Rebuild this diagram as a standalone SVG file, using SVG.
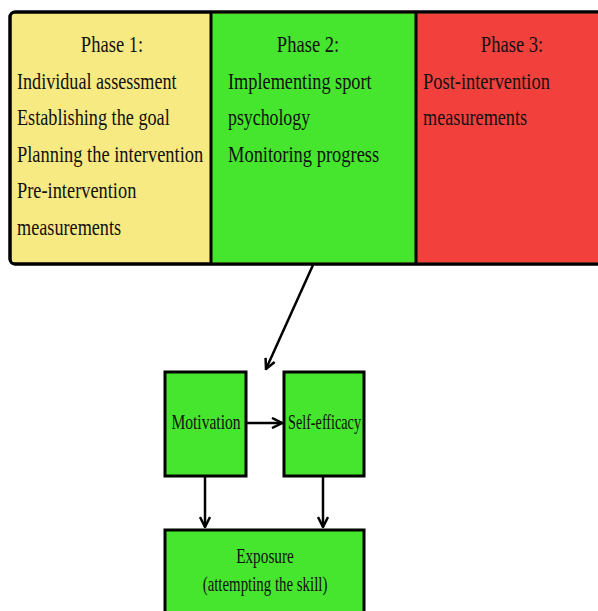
<svg xmlns="http://www.w3.org/2000/svg" width="598" height="611" viewBox="0 0 598 611">
<defs>
<marker id="ah" viewBox="0 0 10 10" refX="9" refY="5" markerWidth="5" markerHeight="5" orient="auto" markerUnits="strokeWidth">
<path d="M1,1 L9,5 L1,9" fill="none" stroke="#000" stroke-width="2"/>
</marker>
<style>
text{font-family:"Liberation Serif","Times New Roman",serif;fill:#111;}
.t{font-size:24px;}
.s{font-size:21px;}
.box{stroke:#000;stroke-width:3;}
.c{stroke:#000;stroke-width:2.5;fill:none;}
</style>
</defs>
<rect width="598" height="611" fill="#fff"/>
<g id="phases">
<rect x="10" y="12" width="600" height="252" rx="5" fill="#F8EA82" class="box"/>
<rect x="211" y="13.5" width="205" height="249" fill="#46E62E"/>
<rect x="416" y="13.5" width="190" height="249" fill="#F2413D"/>
<rect x="10" y="12" width="600" height="252" rx="5" fill="none" class="box"/>
<line x1="211" y1="12" x2="211" y2="264" stroke="#000" stroke-width="3"/>
<line x1="416" y1="12" x2="416" y2="264" stroke="#000" stroke-width="3"/>
</g>
<g id="phase1">
<text class="t" transform="translate(112,52) scale(0.76,1)" text-anchor="middle" textLength="82" lengthAdjust="spacingAndGlyphs">Phase 1:</text>
<text class="t" transform="translate(17,89) scale(0.76,1)" textLength="210" lengthAdjust="spacingAndGlyphs">Individual assessment</text>
<text class="t" transform="translate(17,125) scale(0.76,1)" textLength="201" lengthAdjust="spacingAndGlyphs">Establishing the goal</text>
<text class="t" transform="translate(17,162) scale(0.76,1)" textLength="245" lengthAdjust="spacingAndGlyphs">Planning the intervention</text>
<text class="t" transform="translate(17,198) scale(0.76,1)" textLength="157" lengthAdjust="spacingAndGlyphs">Pre-intervention</text>
<text class="t" transform="translate(17,235) scale(0.76,1)" textLength="137" lengthAdjust="spacingAndGlyphs">measurements</text>
</g>
<g id="phase2">
<text class="t" transform="translate(308,52) scale(0.76,1)" text-anchor="middle" textLength="82" lengthAdjust="spacingAndGlyphs">Phase 2:</text>
<text class="t" transform="translate(228,89) scale(0.76,1)" textLength="189" lengthAdjust="spacingAndGlyphs">Implementing sport</text>
<text class="t" transform="translate(228,125) scale(0.76,1)" textLength="108" lengthAdjust="spacingAndGlyphs">psychology</text>
<text class="t" transform="translate(228,162) scale(0.76,1)" textLength="199" lengthAdjust="spacingAndGlyphs">Monitoring progress</text>
</g>
<g id="phase3">
<text class="t" transform="translate(512,52) scale(0.76,1)" text-anchor="middle" textLength="82" lengthAdjust="spacingAndGlyphs">Phase 3:</text>
<text class="t" transform="translate(423,89) scale(0.76,1)" textLength="167" lengthAdjust="spacingAndGlyphs">Post-intervention</text>
<text class="t" transform="translate(423,125) scale(0.76,1)" textLength="137" lengthAdjust="spacingAndGlyphs">measurements</text>
</g>
<g id="motivation">
<rect x="165" y="372" width="81" height="104" fill="#46E62E" class="box"/>
<text class="s" transform="translate(206,429) scale(0.76,1)" text-anchor="middle" textLength="91" lengthAdjust="spacingAndGlyphs">Motivation</text>
</g>
<g id="self-efficacy">
<rect x="284" y="372" width="80" height="104" fill="#46E62E" class="box"/>
<text class="s" transform="translate(324.5,429) scale(0.76,1)" text-anchor="middle" textLength="96" lengthAdjust="spacingAndGlyphs">Self-efficacy</text>
</g>
<g id="exposure">
<rect x="165" y="530" width="199" height="90" fill="#46E62E" class="box"/>
<text class="s" transform="translate(265,563) scale(0.76,1)" text-anchor="middle" textLength="76" lengthAdjust="spacingAndGlyphs">Exposure</text>
<text class="s" transform="translate(265,591) scale(0.76,1)" text-anchor="middle" textLength="164" lengthAdjust="spacingAndGlyphs">(attempting the skill)</text>
</g>
<g id="connectors">
<line class="c" x1="313" y1="265" x2="266" y2="369" marker-end="url(#ah)"/>
<line class="c" x1="247" y1="423" x2="282" y2="423" marker-end="url(#ah)"/>
<line class="c" x1="205" y1="477" x2="205" y2="527" marker-end="url(#ah)"/>
<line class="c" x1="323" y1="477" x2="323" y2="527" marker-end="url(#ah)"/>
</g>
</svg>
